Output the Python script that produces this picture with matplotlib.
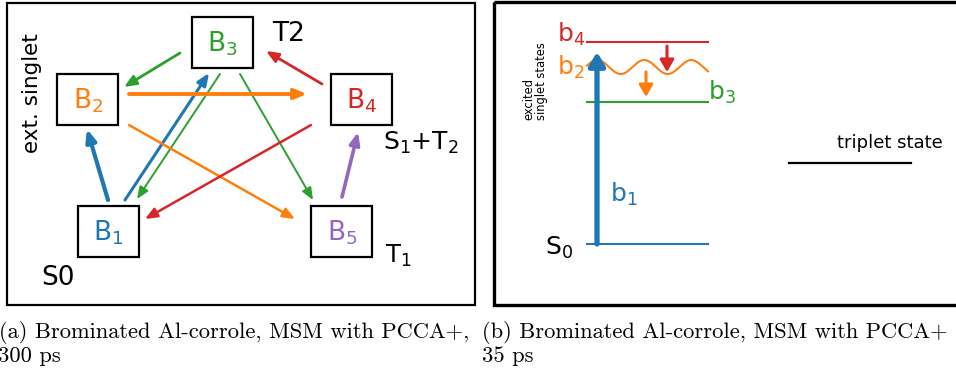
import numpy as np
import matplotlib
matplotlib.use("Agg")
import matplotlib.pyplot as plt
from matplotlib.patches import Rectangle

plt.rcParams["mathtext.fontset"] = "dejavusans"

BLUE, ORANGE, GREEN, RED, PURPLE = "#1f77b4", "#ff7f0e", "#2ca02c", "#d62728", "#9467bd"

# ── (a) state network: boxes (centre x, centre y) and transitions
node_names = ["1", "2", "3", "4", "5"]
node_x = [108.5, 88.0, 222.5, 362.0, 342.0]
node_y = [231.5, 99.5, 42.5, 99.5, 231.5]
node_colors = [BLUE, ORANGE, GREEN, RED, PURPLE]

edge_tail = [(108, 200), (125, 200), (220, 74), (180, 53), (240, 74),
             (129, 94), (129, 125), (322, 84), (311, 125), (342, 197)]
edge_head = [(87, 129), (209, 73), (137, 199), (124, 87), (313, 200),
             (307, 94), (295, 219), (266, 51), (145, 219), (358, 132)]
edge_colors = [BLUE, BLUE, GREEN, GREEN, GREEN, ORANGE, ORANGE, RED, RED, PURPLE]
edge_widths = [3.0, 2.2, 1.4, 2.0, 1.4, 2.8, 1.8, 2.0, 1.8, 2.6]

# ── (b) energy levels
level_y = {"S0": 244, "b3": 102, "b4": 42}
level_x = (587, 708)
triplet_y = 163
triplet_x = (789, 911)

fig = plt.figure(figsize=(9.56, 3.74), dpi=100)
ax = fig.add_axes([0, 0, 1, 1])
ax.set_xlim(0, 956)
ax.set_ylim(374, 0)
ax.axis("off")


def arrow(p0, p1, color, lw, hl=0.6, hw=0.25, ms=12):
    ax.annotate("", xy=p1, xytext=p0,
                arrowprops=dict(arrowstyle=f"-|>,head_length={hl},head_width={hw}",
                                color=color, lw=lw, shrinkA=0, shrinkB=0,
                                mutation_scale=ms))


# panel frames
ax.add_patch(Rectangle((7, 3), 468, 302, fill=False, lw=1.6, ec="black"))
ax.add_patch(Rectangle((494, 2), 470, 303, fill=False, lw=2.4, ec="black"))

# (a) boxes with labels
bw, bh = 61, 51
for name, cx, cy, c in zip(node_names, node_x, node_y, node_colors):
    ax.add_patch(Rectangle((cx - bw / 2, cy - bh / 2), bw, bh,
                           fill=False, lw=1.6, ec="black"))
    ax.text(cx, cy + 9, rf"B$_{name}$", color=c, fontsize=19,
            ha="center", va="baseline")

for p0, p1, c, lw in zip(edge_tail, edge_head, edge_colors, edge_widths):
    arrow(p0, p1, c, lw)

ax.text(272, 41, "T2", fontsize=19, va="baseline")
ax.text(383, 150, r"S$_1$+T$_2$", fontsize=18, va="baseline")
ax.text(385, 263, r"T$_1$", fontsize=17.5, va="baseline")
ax.text(41, 285, "S0", fontsize=19, va="baseline")
ax.text(32, 93, "ext. singlet", fontsize=15.5, rotation=90,
        ha="center", va="center")

# (b) level lines
ax.plot(level_x, [level_y["b4"]] * 2, color=RED, lw=1.5)
ax.plot(level_x, [level_y["b3"]] * 2, color=GREEN, lw=1.5)
ax.plot(level_x, [level_y["S0"]] * 2, color=BLUE, lw=1.5)
ax.plot(triplet_x, [triplet_y] * 2, color="black", lw=1.6)

# vibrationally hot b2 drawn as a wavy line
wx = np.linspace(level_x[0], level_x[1], 200)
wy = 67 - 7 * np.sin(2 * np.pi * (wx - 585.5) / 47)
ax.plot(wx, wy, color=ORANGE, lw=1.5)

arrow((597, level_y["S0"]), (597, 52), BLUE, 3.8, hl=0.5, hw=0.3, ms=16)
arrow((667, 46), (667, 72), RED, 2.2, hl=0.6, hw=0.35, ms=12)
arrow((646, 72), (646, 97), ORANGE, 2.2, hl=0.6, hw=0.35, ms=12)

ax.text(557, 42, r"b$_4$", color=RED, fontsize=18, va="baseline")
ax.text(557, 75, r"b$_2$", color=ORANGE, fontsize=18, va="baseline")
ax.text(708, 100, r"b$_3$", color=GREEN, fontsize=18, va="baseline")
ax.text(610, 202, r"b$_1$", color=BLUE, fontsize=18, va="baseline")
ax.text(545, 255, r"S$_0$", fontsize=18, va="baseline")
ax.text(837, 148, "triplet state", fontsize=13, va="baseline")
ax.text(535, 120, "excited\nsinglet states", fontsize=8.3, rotation=90,
        ha="center", va="bottom", multialignment="left", linespacing=1.0)

# captions
cap = dict(fontsize=16.2, family="cmr10", va="baseline")
ax.text(-1, 338, "(a) Brominated Al-corrole, MSM with PCCA+,", **cap)
ax.text(-2, 362, "300 ps", **cap)
ax.text(482, 338, "(b) Brominated Al-corrole, MSM with PCCA+", **cap)
ax.text(482, 362, "35 ps", **cap)

fig.savefig("out.png", dpi=100)
